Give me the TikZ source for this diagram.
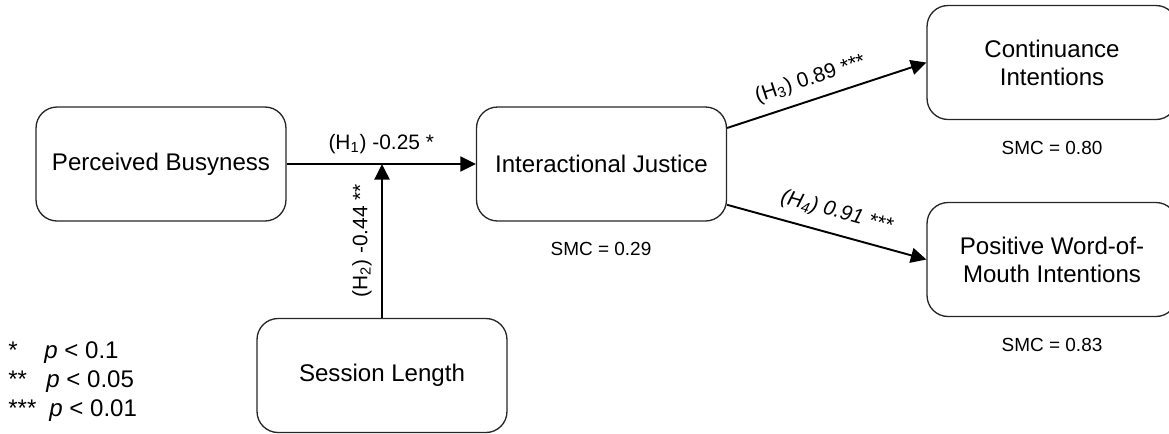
\documentclass[tikz,border=0pt]{standalone}
\usepackage{fontspec}
\setmainfont{Liberation Sans}
\usetikzlibrary{arrows.meta, positioning}

\begin{document}
\begin{tikzpicture}[x=0.02cm, y=-0.02cm,
    >={Triangle[length=0.31cm,width=0.3cm]},
    construct/.style={draw=black!85, line width=0.75pt, rounded corners=0.42cm,
      minimum width=5cm, minimum height=2.28cm, align=center,
      font=\fontsize{13.7}{16}\selectfont},
    smc/.style={font=\fontsize{10.8}{13}\selectfont},
    effect/.style={->, line width=1.1pt},
    coef/.style={font=\fontsize{11.9}{14}\selectfont}]
    \useasboundingbox (0,0) rectangle (1169,433);

      \node[construct] (pb)  at (161,164)    {Perceived Busyness};
      \node[construct] (ij)  at (601.5,164)  {Interactional Justice};
      \node[construct] (ci)  at (1052,62.5)  {Continuance\\Intentions};
      \node[construct] (wom) at (1052,259.5) {Positive Word-of-\\Mouth Intentions};
      \node[construct] (sl)  at (382,375.5)  {Session Length};

      \node[smc] (smcij)  at (601,249)  {SMC = 0.29};
      \node[smc] (smcci)  at (1052,148) {SMC = 0.80};
      \node[smc] (smcwom) at (1052,345) {SMC = 0.83};

      \coordinate (join) at (sl.north |- pb.east);

      \path[effect] (pb) edge node[coef, above=2pt] {(H\textsubscript{1}) -0.25 *} (ij)
                (sl.north) edge node[coef, sloped, above=2pt] {(H\textsubscript{2}) -0.44 **} (join)
                (ij.16) edge node[coef, sloped, above=2pt, pos=0.45] {(H\textsubscript{3}) 0.89 ***} (ci.west)
                (ij.-18) edge node[coef, sloped, above=3pt, pos=0.52] {\itshape (H\textsubscript{4}) 0.91 ***} (wom.west);

      % significance levels
      \node[anchor=north west, inner sep=0pt, align=left, font=\fontsize{13.7}{16.6}\selectfont] (legend) at (8,341)
        {\makebox[0.72cm][l]{*}\textit{p} < 0.1\\
         \makebox[0.76cm][l]{**}\textit{p} < 0.05\\
         \makebox[0.82cm][l]{***}\textit{p} < 0.01};
    \end{tikzpicture}
\end{document}
